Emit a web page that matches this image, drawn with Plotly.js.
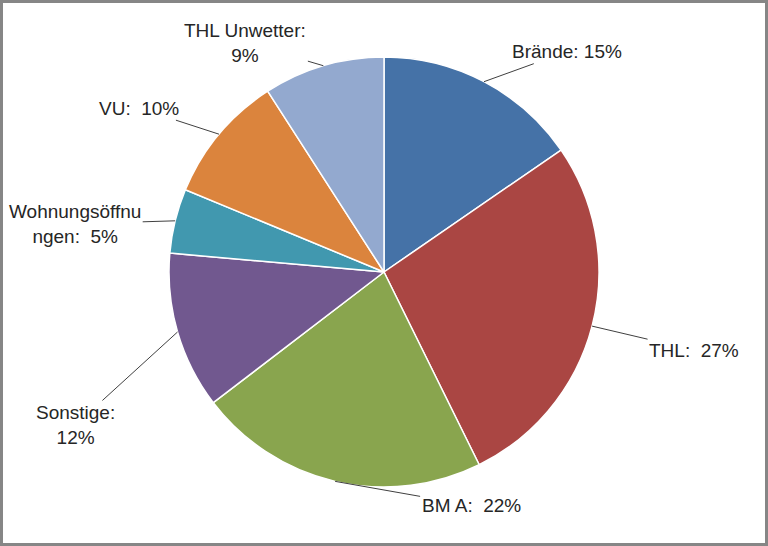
<!DOCTYPE html>
<html>
<head>
<meta charset="utf-8">
<script src="https://cdn.plot.ly/plotly-3.0.1.min.js"></script>
<style>body{margin:0;padding:0;background:#fff}#chart{width:768px;height:546px}</style>
</head>
<body>
<div id="chart"></div>
<script>
// Data (shares; labels show rounded percentages)
var categories = ["Brände", "THL", "BM A", "Sonstige", "Wohnungsöffnungen", "VU", "THL Unwetter"];
var values = [15.4, 27.3, 21.9, 11.8, 4.85, 9.65, 9.1];
var colors = ["#4572A7", "#AA4643", "#89A54E", "#71588F", "#4198AF", "#DB843D", "#93A9CF"];

// Label styling (line breaks / separator per label) and label offsets in px from the slice edge
var labelNames = ["Brände:", "THL:", "BM A:", "Sonstige:", "Wohnungsöffnu<br>ngen:", "VU:", "THL Unwetter:"];
var labelSep = [" ", "\u00a0 ", "\u00a0 ", "<br>", "\u00a0 ", "\u00a0 ", "<br>"];
var labelOffsets = [[83, -30], [102, 24], [136, 24], [-102, 93], [-100, 3], [-80, -26], [-78, -23]];

var W = 768, H = 546;
var cx = 384, cy = 272, R = 215;

var total = values.reduce(function (a, b) { return a + b; }, 0);
var annotations = [];
var cum = 0;
for (var i = 0; i < values.length; i++) {
  var mid = (cum + values[i] / 2) / total * 2 * Math.PI;
  cum += values[i];
  var ex = cx + R * Math.sin(mid);
  var ey = cy - R * Math.cos(mid);
  annotations.push({
    xref: 'paper', yref: 'paper',
    x: ex / W, y: 1 - ey / H,
    ax: labelOffsets[i][0], ay: labelOffsets[i][1],
    text: labelNames[i] + labelSep[i] + Math.round(values[i] / total * 100) + '%',
    showarrow: true, arrowhead: 0, arrowwidth: 1, arrowcolor: '#404040',
    standoff: 0, startstandoff: 0,
    font: {family: 'Liberation Sans, Arial, sans-serif', size: 19, color: '#262626'},
    align: 'center'
  });
}

var trace = {
  type: 'pie',
  labels: categories,
  values: values,
  sort: false,
  direction: 'clockwise',
  rotation: 0,
  textinfo: 'none',
  textposition: 'none',
  hoverinfo: 'skip',
  marker: {colors: colors, line: {color: '#ffffff', width: 1.5}},
  domain: {x: [(cx - R) / W, (cx + R) / W], y: [(H - cy - R) / H, (H - cy + R) / H]},
  showlegend: false
};

var layout = {
  width: W, height: H,
  margin: {l: 0, r: 0, t: 0, b: 0},
  paper_bgcolor: '#ffffff',
  showlegend: false,
  annotations: annotations,
  shapes: [{type: 'rect', xref: 'paper', yref: 'paper', x0: 0, x1: 1, y0: 0, y1: 1,
            line: {color: '#868686', width: 6}}]
};

Plotly.newPlot('chart', [trace], layout, {staticPlot: true});
</script>
</body>
</html>
